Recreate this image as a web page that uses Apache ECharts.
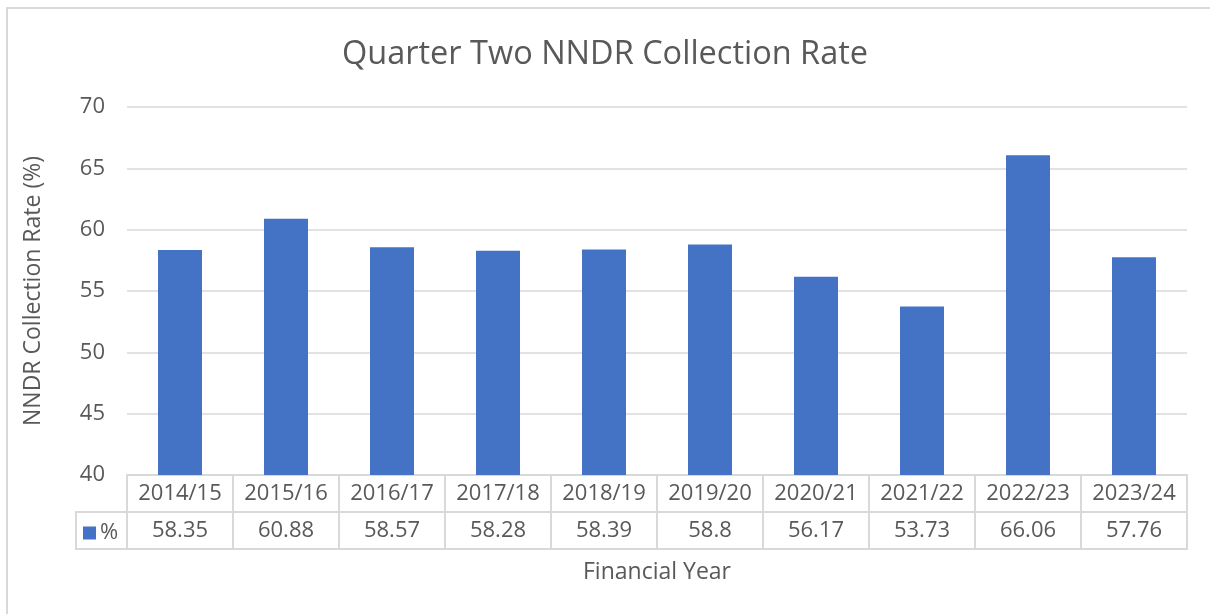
<!DOCTYPE html>
<html>
<head>
<meta charset="utf-8">
<script src="https://cdn.jsdelivr.net/npm/echarts@6/dist/echarts.min.js"></script>
<style>html,body{margin:0;padding:0;background:#fff}#c{width:1210px;height:614px}</style>
</head>
<body>
<div id="c"></div>
<script>
const categories = ['2014/15','2015/16','2016/17','2017/18','2018/19','2019/20','2020/21','2021/22','2022/23','2023/24'];
const values = [58.35, 60.88, 58.57, 58.28, 58.39, 58.8, 56.17, 53.73, 66.06, 57.76];
const seriesName = '%';
const yTicks = {min: 40, max: 70, interval: 5};

const FONT = 'Open Sans';
const TXT = '#595959';
const LINE = '#d9d9d9';
const FS = 22;
const chart = echarts.init(document.getElementById('c'));
chart.setOption({
  animation: false,
  title: {text: 'Quarter Two NNDR Collection Rate', left: 'center', top: 33,
    textStyle: {fontFamily: FONT, fontSize: 32.5, fontWeight: 'normal', color: TXT}},
  legend: {data: [seriesName], left: 83, top: 522, icon: 'rect', itemWidth: 13, itemHeight: 13,
    itemGap: 4, textStyle: {fontFamily: FONT, fontSize: FS, color: TXT, padding: [0,0,0,-1]}, padding: 0},
  grid: {left: 127, right: 23, top: 107, bottom: 139},
  xAxis: [
    {type: 'category', data: categories, position: 'bottom',
      axisLine: {show: true, lineStyle: {color: LINE, width: 2}},
      axisTick: {show: true, length: 74, interval: 0, lineStyle: {color: LINE, width: 2}},
      axisLabel: {fontFamily: FONT, fontSize: FS, color: TXT, margin: 8, interval: 0},
      name: 'Financial Year', nameLocation: 'middle', nameGap: 86,
      nameTextStyle: {fontFamily: FONT, fontSize: 23, color: TXT}},
    {type: 'category', data: values.map(String), position: 'bottom', offset: 37,
      axisLine: {show: true, lineStyle: {color: LINE, width: 2}},
      axisTick: {show: false},
      axisLabel: {fontFamily: FONT, fontSize: FS, color: TXT, margin: 8, interval: 0}},
    {type: 'category', data: categories, position: 'bottom', offset: 74,
      axisLine: {show: true, lineStyle: {color: LINE, width: 2}},
      axisTick: {show: false}, axisLabel: {show: false}}
  ],
  yAxis: {type: 'value', min: yTicks.min, max: yTicks.max, interval: yTicks.interval,
    axisLine: {show: false}, axisTick: {show: false},
    splitLine: {lineStyle: {color: LINE, width: 1.5}},
    axisLabel: {fontFamily: FONT, fontSize: FS, color: TXT, margin: 22},
    name: 'NNDR Collection Rate (%)', nameLocation: 'middle', nameGap: 82,
    nameTextStyle: {fontFamily: FONT, fontSize: 23, color: TXT}},
  series: [{name: seriesName, type: 'bar', data: values, xAxisIndex: 0, barWidth: 44,
    itemStyle: {color: '#4472C4'}}],
  graphic: [
    {type: 'polyline', shape: {points: [[7,614],[7,8],[1210,8]]}, style: {stroke: LINE, lineWidth: 2, fill: null}},
    {type: 'line', shape: {x1: 76, y1: 512, x2: 127, y2: 512}, style: {stroke: LINE, lineWidth: 2}},
    {type: 'line', shape: {x1: 76, y1: 549, x2: 127, y2: 549}, style: {stroke: LINE, lineWidth: 2}},
    {type: 'line', shape: {x1: 76, y1: 511, x2: 76, y2: 550}, style: {stroke: LINE, lineWidth: 2}}
  ]
});
</script>
</body>
</html>
